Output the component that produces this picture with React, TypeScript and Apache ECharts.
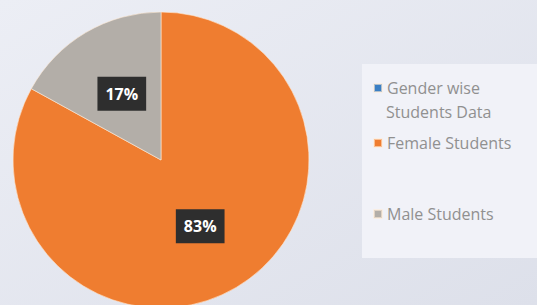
import React, { useEffect, useRef } from "react";
import * as echarts from "echarts";

const categories = ["Gender wise Students Data", "Female Students", "Male Students"];
const values = [0, 83, 17];
const colors = ["#3b7fc4", "#ef7d30", "#b3aea8"];

export default function App() {
  const ref = useRef<HTMLDivElement>(null);
  useEffect(() => {
    if (!ref.current) return;
    const chart = echarts.init(ref.current, undefined, { renderer: "svg" });
    const font = "Open Sans";
    const legendText = { color: "#909090", fontSize: 16, fontFamily: font };
    const legendTops = [80, 135, 206];
    chart.setOption({
      animation: false,
      backgroundColor: {
        type: "linear",
        x: 0,
        y: 0,
        x2: 1,
        y2: 1,
        colorStops: [
          { offset: 0, color: "#eceef5" },
          { offset: 1, color: "#dde0ea" },
        ],
      },
      graphic: [
        {
          type: "rect",
          z: -1,
          shape: { x: 362, y: 64, width: 180, height: 194 },
          style: { fill: "#f1f2f8" },
        },
        {
          type: "text",
          left: 386,
          top: 104,
          style: { text: "Students Data", fill: "#909090", fontSize: 16, fontFamily: font },
        },
      ],
      legend: categories.map((name, i) => ({
        data: [name],
        left: 373,
        top: legendTops[i],
        padding: 0,
        icon: "rect",
        itemWidth: 8,
        itemHeight: 8,
        itemGap: 6,
        selectedMode: false,
        textStyle: legendText,
        formatter: (n: string) => (n === categories[0] ? "Gender wise" : n),
      })),
      series: [
        {
          type: "pie",
          center: [161, 160],
          radius: [0, 148],
          startAngle: 90,
          clockwise: true,
          itemStyle: { borderColor: "rgba(255,235,215,0.6)", borderWidth: 1 },
          label: {
            show: true,
            position: "inside",
            formatter: "{c}%",
            color: "#ffffff",
            backgroundColor: "#2e2e2e",
            padding: [9, 8],
            fontSize: 16,
            fontWeight: "bold",
            fontFamily: font,
          },
          labelLine: { show: false },
          data: categories.map((name, i) => ({
            name,
            value: values[i],
            itemStyle: { color: colors[i] },
            label: i === 0 ? { show: false } : undefined,
          })),
        },
      ],
    });
    return () => chart.dispose();
  }, []);
  return (
    <div
      ref={ref}
      style={{ position: "fixed", left: 0, top: 0, width: 537, height: 305 }}
    />
  );
}
